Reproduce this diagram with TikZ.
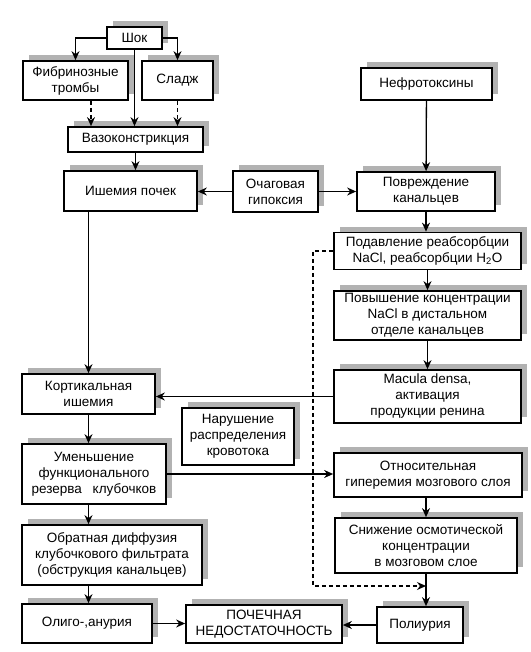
\documentclass[tikz,border=0pt]{standalone}
\usepackage{fontspec}
\setmainfont{Liberation Sans}
\usepackage{tikz}
\usetikzlibrary{arrows.meta,positioning,shadows,calc}

\begin{document}
\begin{tikzpicture}[
        x=1pt, y=-1pt,
        box/.style={draw, line width=1.7pt, fill=white, align=center, inner sep=0pt,
            font=\fontsize{13.5}{16}\selectfont,
            drop shadow={shadow xshift=6pt, shadow yshift=6pt, fill=black!30, opacity=1}},
        arr/.style={-{Stealth[length=9pt,width=8pt]}, line width=1.3pt},
        dashline/.style={dash pattern=on 4pt off 3pt}
    ]
        \useasboundingbox (0,0) rectangle (530,652);

        % Shock branch
        \node[box, minimum width=55pt, minimum height=22pt] (shok) at (134.5,38) {Шок};
        \node[box, minimum width=105pt, minimum height=39pt] (fibr) at (75.5,80.5) {Фибринозные\\тромбы};
        \node[box, minimum width=71pt, minimum height=39pt] (sladzh) at (177.5,80.5) {Сладж};
        \node[box, minimum width=135pt, minimum height=25pt] (vazo) at (135.5,139.5) {Вазоконстрикция};
        \node[box, minimum width=133pt, minimum height=40pt] (ishem) at (130.5,191) {Ишемия почек};
        \node[box, minimum width=85pt, minimum height=41pt] (ochag) at (275.5,191.5) {Очаговая\\гипоксия};

        % Nephrotoxins branch
        \node[box, minimum width=131pt, minimum height=32pt] (nefro) at (426.5,84) {Нефротоксины};
        \node[box, minimum width=138pt, minimum height=39pt] (povrezh) at (426,191.5) {Повреждение\\канальцев};
        \node[box, minimum width=187pt, minimum height=37pt] (podavl) at (427.5,251) {Подавление реабсорбции\\NaCl, реабсорбции H\textsubscript{2}O};
        \node[box, minimum width=187pt, minimum height=49pt] (povysh) at (427.5,315.5) {Повышение концентрации\\NaCl в дистальном\\отделе канальцев};
        \node[box, minimum width=187pt, minimum height=53pt] (macula) at (427.5,396.5) {Macula densa,\\активация\\продукции ренина};
        \node[box, minimum width=188pt, minimum height=44pt] (otnos) at (428,475) {Относительная\\гиперемия мозгового слоя};
        \node[box, minimum width=182pt, minimum height=55pt] (snizh) at (426,545.5) {Снижение осмотической\\концентрации\\в мозговом слое};
        \node[box, minimum width=86pt, minimum height=36pt] (poliuria) at (420,625) {Полиурия};

        % Cortex branch
        \node[box, minimum width=133pt, minimum height=40pt] (kort) at (88.5,394) {Кортикальная\\ишемия};
        \node[box, minimum width=112pt, minimum height=57pt] (narush) at (238,436.5) {Нарушение\\распределения\\кровотока};
        \node[box, minimum width=144pt, minimum height=60pt] (umen) at (94,474) {Уменьшение\\функционального\\резерва\hspace{0.8em}клубочков};
        \node[box, minimum width=180pt, minimum height=60pt] (obrat) at (112,555) {Обратная диффузия\\клубочкового фильтрата\\(обструкция канальцев)};
        \node[box, minimum width=130pt, minimum height=39pt] (oligo) at (87,623.5) {Олиго-,анурия};
        \node[box, minimum width=156pt, minimum height=38pt] (pochech) at (264,624) {ПОЧЕЧНАЯ\\НЕДОСТАТОЧНОСТЬ};

        % Arrows
        \draw[arr] (shok.west) -| (fibr.north);
        \draw[arr] (shok.east) -| (sladzh.north);
        \draw[arr] (shok) -- (shok |- vazo.north);
        \draw[arr, dashline] ([xshift=15.5pt]fibr.south) -- ([xshift=15.5pt]fibr.south |- vazo.north);
        \draw[arr, dashline] (sladzh) -- (sladzh |- vazo.north);
        \draw[arr] (vazo) -- (vazo |- ishem.north);
        \draw[arr] (ochag.west) -- (ochag.west -| ishem.east);
        \draw[arr] (ochag.east) -- (ochag.east -| povrezh.west);
        \draw[arr] (nefro) -- (povrezh);
        \draw[arr] (ishem.south -| kort.north) -- (kort.north);
        \draw[arr] (povrezh) -- (povrezh |- podavl.north);
        \draw[arr] (podavl) -- (podavl |- povysh.north);
        \draw[arr] (povysh) -- (povysh |- macula.north);
        \draw[arr] (macula.west) -- (macula.west -| kort.east);
        \draw[arr] (kort.south) -- (kort.south |- umen.north);
        \draw[arr] (umen.east) -- (umen.east -| otnos.west);
        \draw[arr] (kort.south |- umen.south) -- (kort.south |- obrat.north);
        \draw[arr] (kort.south |- obrat.south) -- (kort.south |- oligo.north);
        \draw[arr] (snizh.north |- otnos.south) -- (snizh.north);
        \draw[arr] (snizh.south) -- (snizh.south |- poliuria.north);
        \draw[arr] (oligo.east) -- (oligo.east -| pochech.west);
        \draw[arr] (poliuria.west) -- (poliuria.west -| pochech.east);

        % Dashed bypass
        \coordinate (bend) at (313,586);
        \draw[arr, dashline] (podavl.west) -| (bend) -- (bend -| snizh.south);

    \end{tikzpicture}
\end{document}
